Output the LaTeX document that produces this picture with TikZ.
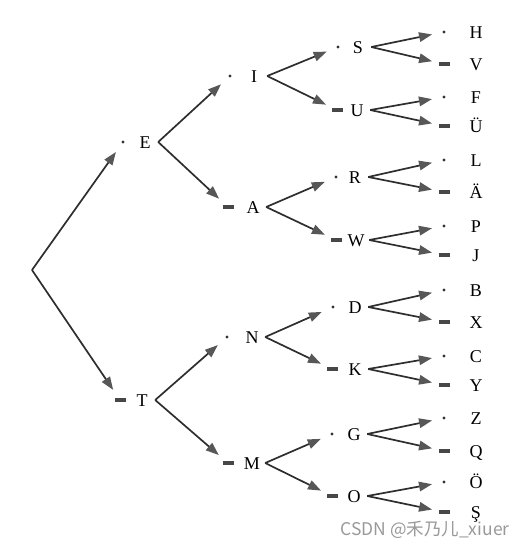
\documentclass[tikz,border=0pt]{standalone}
\usepackage{fontspec}
\usetikzlibrary{arrows.meta}
\setmainfont{Liberation Serif}
\newfontfamily\cjkfont{Noto Sans CJK SC}
\tikzset{
    dotmark/.style={circle,minimum size=24pt,inner sep=0pt,
        path picture={\fill[black!80] (path picture bounding box.center) circle (1.6pt);}},
    dashmark/.style={circle,minimum size=24pt,inner sep=0pt,
        path picture={\fill[black!72] ([shift={(-5.5pt,-1.8pt)}]path picture bounding box.center) rectangle +(11pt,3.6pt);}},
    letter/.style={inner sep=0pt,minimum width=26pt,text height=12pt,text depth=0pt,
        font=\fontsize{18}{20}\selectfont},
    arr/.style={-{Triangle[length=13pt,width=9.5pt,color=black!66]},line width=1.7pt,draw=black!82},
}
\newcommand\MorseSign[6]{% name, mark x, letter x, y, mark, letter
    \node[#5] (m#1) at (#2,#4) {};
    \node[letter] (#1) at (#3,#4) {#6};
}
\begin{document}
\begin{tikzpicture}[x=1pt,y=-1pt]
    \useasboundingbox (0,0) rectangle (532,550);
    \coordinate (root) at (32,270);
    % first level
    \MorseSign{E}{123}{145}{142}{dotmark}{E}
    \MorseSign{T}{120}{142}{400}{dashmark}{T}
    % second level
    \MorseSign{I}{230}{254}{76}{dotmark}{I}
    \MorseSign{A}{228}{253}{207}{dashmark}{A}
    \MorseSign{N}{227}{252}{337}{dotmark}{N}
    \MorseSign{M}{228}{252}{463}{dashmark}{M}
    % third level
    \MorseSign{S}{338}{358}{47}{dotmark}{S}
    \MorseSign{U}{337}{357}{110}{dashmark}{U}
    \MorseSign{R}{336}{355}{177}{dotmark}{R}
    \MorseSign{W}{336}{356}{240}{dashmark}{W}
    \MorseSign{D}{333}{355}{307}{dotmark}{D}
    \MorseSign{K}{332}{355}{369}{dashmark}{K}
    \MorseSign{G}{332}{354}{434}{dotmark}{G}
    \MorseSign{O}{332}{354}{496}{dashmark}{O}
    % fourth level
    \foreach \n/\y/\m/\t in {H/32/dotmark/H, V/64/dashmark/V, F/97/dotmark/F, Ue/126/dashmark/Ü,
        L/160/dotmark/L, Ae/192/dashmark/Ä, P/226/dotmark/P, J/255/dashmark/J,
        B/290/dotmark/B, X/322/dashmark/X, C/356/dotmark/C, Y/385/dashmark/Y,
        Z/418/dotmark/Z, Q/451/dashmark/Q, Oe/482/dotmark/Ö, Sc/512/dashmark/Ş}
        {\MorseSign{\n}{444}{476}{\y}{\m}{\t}}
    % connectors
    \draw[arr] (root) -- (mE);
    \draw[arr] (root) -- (mT);
    \foreach \p/\c in {E/I,E/A,T/N,T/M,I/S,I/U,A/R,A/W,N/D,N/K,M/G,M/O,
        S/H,S/V,U/F,U/Ue,R/L,R/Ae,W/P,W/J,D/B,D/X,K/C,K/Y,G/Z,G/Q,O/Oe,O/Sc}
        \draw[arr] (\p.east) -- (m\c);
    \node[font=\cjkfont\fontsize{17.5}{20}\selectfont,text=black!40] (watermark) at (425,530) {CSDN @禾乃儿\_xiuer};
\end{tikzpicture}
\end{document}
